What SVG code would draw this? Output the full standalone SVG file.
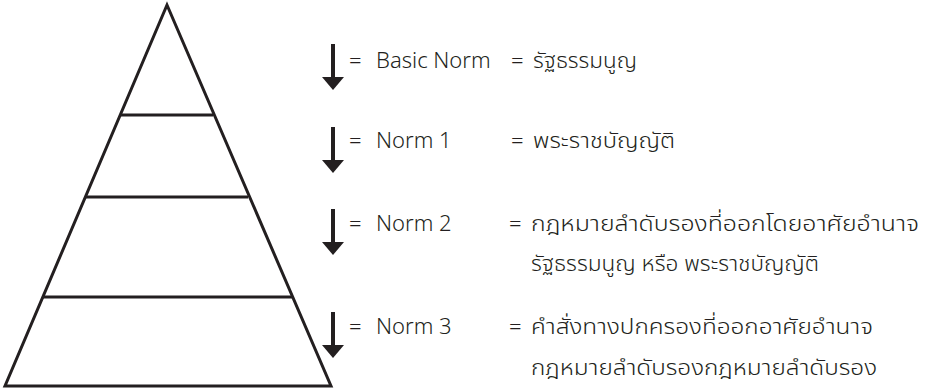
<svg xmlns="http://www.w3.org/2000/svg" width="928" height="389" viewBox="0 0 928 389">
<style>
.ln{stroke:#231f20;stroke-width:3;fill:none}
.ar{fill:#231f20}
text{font-family:"Noto Sans","Open Sans","Noto Sans Thai","Loma","Garuda","Liberation Sans",sans-serif;font-size:22px;fill:#231f20;font-weight:300}
.th{font-family:"Noto Sans Thai","Noto Sans Thai Looped","Loma","Garuda","Sarabun","Noto Sans",sans-serif;font-weight:300}
</style>
<rect width="928" height="389" fill="#fff"/>
<g id="pyramid">
<polygon class="ln" points="167,5 331,386 5,386"/>
<line class="ln" x1="120" y1="115" x2="213" y2="115"/>
<line class="ln" x1="85" y1="197" x2="248" y2="197"/>
<line class="ln" x1="43" y1="297" x2="292" y2="297"/>
</g>
<defs>
<g id="arrow"><rect x="331" y="0" width="4" height="34"/><polygon points="322,33 344,33 333,46"/></g>
</defs>
<g id="connectors" class="ar">
<use href="#arrow" y="44"/>
<use href="#arrow" y="127"/>
<use href="#arrow" y="209"/>
<use href="#arrow" y="312"/>
</g>
<g id="row1"><text x="349" y="68">=</text><text x="376" y="68">Basic Norm</text><text x="511" y="68">=</text><text class="th" x="533" y="68" textLength="104" lengthAdjust="spacingAndGlyphs">รัฐธรรมนูญ</text></g>
<g id="row2"><text x="349" y="148">=</text><text x="376" y="148">Norm 1</text><text x="511" y="148">=</text><text class="th" x="533" y="148" textLength="142" lengthAdjust="spacingAndGlyphs">พระราชบัญญัติ</text></g>
<g id="row3"><text x="349" y="231">=</text><text x="376" y="231">Norm 2</text><text x="509" y="231">=</text><text class="th" x="531" y="231" textLength="388" lengthAdjust="spacingAndGlyphs">กฎหมายลำดับรองที่ออกโดยอาศัยอำนาจ</text><text class="th" x="531" y="271" textLength="288" lengthAdjust="spacingAndGlyphs">รัฐธรรมนูญ หรือ พระราชบัญญัติ</text></g>
<g id="row4"><text x="349" y="334">=</text><text x="376" y="334">Norm 3</text><text x="509" y="334">=</text><text class="th" x="531" y="334" textLength="342" lengthAdjust="spacingAndGlyphs">คำสั่งทางปกครองที่ออกอาศัยอำนาจ</text><text class="th" x="531" y="375" textLength="346" lengthAdjust="spacingAndGlyphs">กฎหมายลำดับรองกฎหมายลำดับรอง</text></g>
</svg>
